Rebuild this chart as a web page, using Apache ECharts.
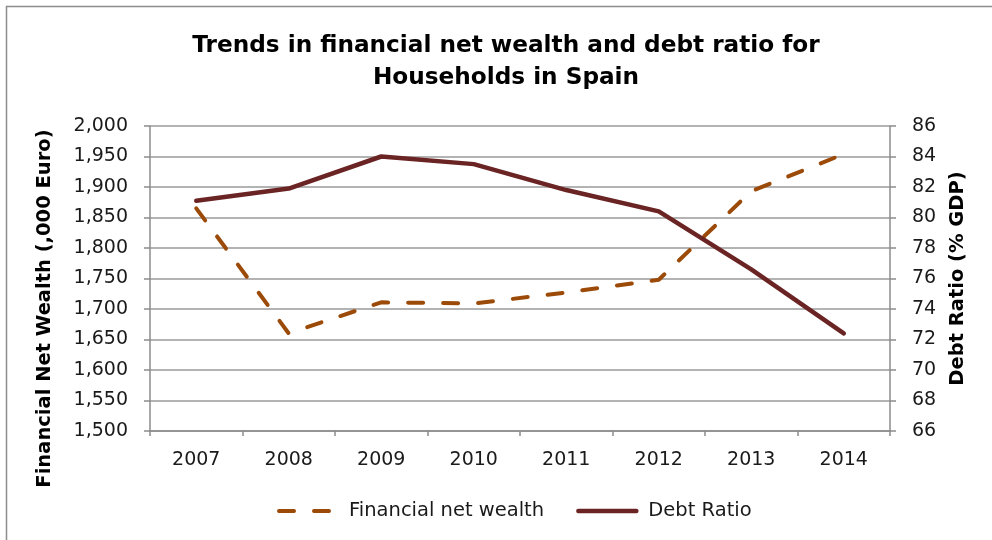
<!DOCTYPE html>
<html>
<head>
<meta charset="utf-8">
<script src="https://cdn.jsdelivr.net/npm/echarts@6/dist/echarts.min.js"></script>
<style>
  html, body { margin: 0; padding: 0; background: #fff; }
  #chart { width: 992px; height: 540px; }
</style>
</head>
<body>
<div id="chart"></div>
<script>
// years on the x axis
var years = ['2007', '2008', '2009', '2010', '2011', '2012', '2013', '2014'];
// financial net wealth, thousand euro (left axis)
var netWealth = [1865, 1660, 1711, 1709, 1727, 1748, 1893, 1954];
// debt ratio, % of GDP (right axis)
var debtRatio = [81.1, 81.9, 84.0, 83.5, 81.8, 80.4, 76.6, 72.4];

var font = 'DejaVu Sans';
var txt = '#1a1a1a';
var axisGrey = '#8c8c8c';
var wealthCol = '#9c4a08';
var debtCol = '#6b2424';
var dash = [15, 20];

var chart = echarts.init(document.getElementById('chart'));
chart.setOption({
  animation: false,
  textStyle: { fontFamily: font, color: txt },
  title: {
    text: 'Trends in financial net wealth and debt ratio for\nHouseholds in Spain',
    left: 501,
    textAlign: 'center',
    top: 25,
    textStyle: { fontFamily: font, fontWeight: 'bold', fontSize: 23.2, lineHeight: 32, color: '#000' }
  },
  // outer frame of the chart
  graphic: [{
    type: 'rect',
    shape: { x: 6.5, y: 6.5, width: 1000, height: 600 },
    style: { fill: null, stroke: '#8c8c8c', lineWidth: 1.5 },
    silent: true
  }],
  legend: {
    bottom: 14,
    left: 272,
    itemWidth: 58,
    itemHeight: 10,
    itemGap: 32,
    textStyle: { fontFamily: font, fontSize: 19.5, color: txt, padding: [0, 0, 0, 7] },
    itemStyle: { opacity: 0 },
    data: [
      { name: 'Financial net wealth', lineStyle: { color: wealthCol, width: 4, type: dash, cap: 'round' } },
      { name: 'Debt Ratio', lineStyle: { color: debtCol, width: 4.5, type: 'solid', cap: 'round' } }
    ]
  },
  grid: { left: 150, right: 102, top: 126, bottom: 109 },
  xAxis: {
    type: 'category',
    data: years,
    boundaryGap: true,
    axisLine: { lineStyle: { color: axisGrey, width: 1.5 } },
    axisTick: { show: true, length: 5, lineStyle: { color: axisGrey, width: 1.5 } },
    axisLabel: { fontFamily: font, fontSize: 19, color: txt, margin: 20 }
  },
  yAxis: [{
    type: 'value',
    min: 1500,
    max: 2000,
    interval: 50,
    name: 'Financial Net Wealth (,000 Euro)',
    nameLocation: 'middle',
    nameRotate: 90,
    nameGap: 95,
    nameTextStyle: { fontFamily: font, fontWeight: 'bold', fontSize: 19.5, color: '#000', padding: [0, 60, 0, 0] },
    axisLine: { show: true, lineStyle: { color: axisGrey, width: 1.5 } },
    axisTick: { show: true, length: 6, lineStyle: { color: axisGrey, width: 1.5 } },
    axisLabel: {
      fontFamily: font, fontSize: 19, color: txt, margin: 22,
      formatter: function (v) { return v.toLocaleString('en-US'); }
    },
    splitLine: { lineStyle: { color: '#9a9a9a', width: 1.5 } }
  }, {
    type: 'value',
    min: 66,
    max: 86,
    interval: 2,
    name: 'Debt Ratio (% GDP)',
    nameLocation: 'middle',
    nameRotate: 90,
    nameGap: 58,
    nameTextStyle: { fontFamily: font, fontWeight: 'bold', fontSize: 19.5, color: '#000' },
    axisLine: { show: true, lineStyle: { color: axisGrey, width: 1.5 } },
    axisTick: { show: true, length: 6, lineStyle: { color: axisGrey, width: 1.5 } },
    axisLabel: { fontFamily: font, fontSize: 19, color: txt, margin: 22 },
    splitLine: { show: false }
  }],
  series: [{
    name: 'Financial net wealth',
    type: 'line',
    yAxisIndex: 0,
    data: netWealth,
    symbol: 'none',
    itemStyle: { color: wealthCol },
    lineStyle: { color: wealthCol, width: 4, type: dash, cap: 'round' }
  }, {
    name: 'Debt Ratio',
    type: 'line',
    yAxisIndex: 1,
    data: debtRatio,
    symbol: 'none',
    itemStyle: { color: debtCol },
    lineStyle: { color: debtCol, width: 4.5, cap: 'round' },
    z: 3
  }]
});
</script>
</body>
</html>
